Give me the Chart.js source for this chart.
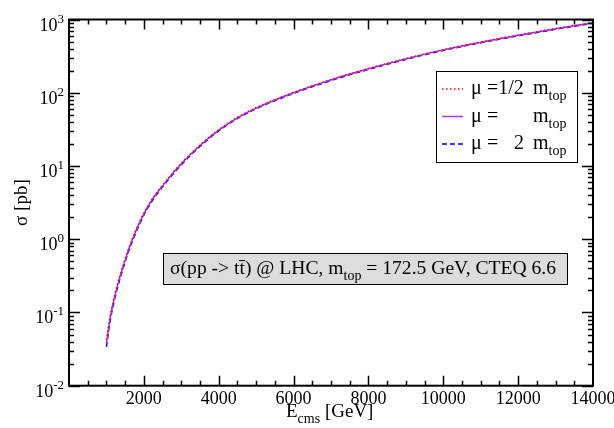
<!DOCTYPE html>
<html>
<head>
<meta charset="utf-8">
<script src="https://cdn.jsdelivr.net/npm/chart.js@4.4.1/dist/chart.umd.min.js"></script>
<style>
  html, body { margin: 0; padding: 0; background: #fff; }
  canvas { display: block; }
</style>
</head>
<body>
<canvas id="chart" width="614" height="428"></canvas>
<script>
// centre-of-mass energy [GeV]
const energies = [1000, 1100, 1200, 1300, 1400, 1500, 1600, 1800, 2000, 2200, 2500, 3000, 3500,
  4000, 4500, 5000, 6000, 7000, 8000, 9000, 10000, 11000, 12000, 13000, 14000];

// sigma [pb] for the three scale choices
const sigmaHalf = [0.042, 0.090, 0.157, 0.250, 0.372, 0.54, 0.765, 1.38, 2.28, 3.42, 5.46, 10.9, 19.3,
  31.2, 46.1, 62.5, 101, 151, 214, 293, 388, 493, 612, 751, 907];
const sigmaOne = [0.038, 0.084, 0.148, 0.238, 0.357, 0.52, 0.74, 1.34, 2.22, 3.34, 5.35, 10.7, 19.0,
  30.8, 45.5, 61.7, 100, 150, 212, 290, 385, 489, 608, 746, 901];
const sigmaTwo = [0.034, 0.077, 0.137, 0.222, 0.336, 0.49, 0.70, 1.28, 2.13, 3.22, 5.18, 10.4, 18.5,
  30.1, 44.5, 60.4, 98, 147, 208, 285, 378, 481, 598, 734, 886];

const xMajorTicks = [2000, 4000, 6000, 8000, 10000, 12000, 14000];
const yDecadeExps = [-2, -1, 0, 1, 2, 3];

const FONT = "Liberation Serif";
const RED = "#ff0000";
const VIOLET = "#a838f0";
const BLUE = "#0000ff";

const toPoints = (ys) => energies.map((e, i) => ({ x: e, y: ys[i] }));

// draw a run of text pieces with optional sub/superscripts
function drawRich(ctx, parts, x, y, size) {
  let cx = x;
  parts.forEach((p) => {
    const small = p.sub || p.sup;
    ctx.font = (small ? Math.round(size * 0.72) : size) + "px " + FONT;
    const dy = p.sub ? size * 0.3 : p.sup ? -size * 0.42 : 0;
    if (p.at !== undefined) cx = p.at;
    ctx.fillText(p.t, cx, y + dy);
    cx += ctx.measureText(p.t).width;
  });
  return cx;
}

const decorations = {
  id: "decorations",
  afterDraw(chart) {
    const { ctx, chartArea: a, scales } = chart;
    const xs = scales.x, ys = scales.y;
    ctx.save();
    ctx.fillStyle = "#000";
    ctx.strokeStyle = "#000";

    // frame
    ctx.lineWidth = 2;
    ctx.strokeRect(a.left, a.top, a.right - a.left, a.bottom - a.top);

    // x ticks (inward, mirrored)
    ctx.lineWidth = 1.5;
    for (let v = 500; v < 14000; v += 500) {
      const px = Math.round(xs.getPixelForValue(v)) + 0.5;
      const len = v % 2000 === 0 ? 10 : 5;
      ctx.beginPath();
      ctx.moveTo(px, a.bottom); ctx.lineTo(px, a.bottom - len);
      ctx.moveTo(px, a.top); ctx.lineTo(px, a.top + len);
      ctx.stroke();
    }
    // y ticks
    yDecadeExps.forEach((e) => {
      for (let m = 1; m <= 9; m++) {
        if (e === 3 && m > 1) break;
        const py = Math.round(ys.getPixelForValue(m * Math.pow(10, e))) + 0.5;
        const len = m === 1 ? 11 : 5;
        ctx.beginPath();
        ctx.moveTo(a.left, py); ctx.lineTo(a.left + len, py);
        ctx.moveTo(a.right, py); ctx.lineTo(a.right - len, py);
        ctx.stroke();
      }
    });

    // x tick labels
    ctx.font = "18px " + FONT;
    ctx.textAlign = "center";
    ctx.textBaseline = "alphabetic";
    xMajorTicks.forEach((v) => {
      ctx.fillText(String(v), xs.getPixelForValue(v), a.bottom + 18.5);
    });

    // y tick labels 10^n
    ctx.textAlign = "right";
    yDecadeExps.forEach((e) => {
      const py = ys.getPixelForValue(Math.pow(10, e));
      const right = 64;
      ctx.font = "13px " + FONT;
      const exp = String(e);
      const ew = ctx.measureText(exp).width;
      ctx.fillText(exp, right, py + 3);
      ctx.font = "18px " + FONT;
      ctx.fillText("10", right - ew, py + 11);
    });

    // axis titles
    ctx.textAlign = "left";
    drawRich(ctx, [{ t: "E" }, { t: "cms", sub: true }, { t: " [GeV]" }], 286, 417, 19);
    ctx.save();
    ctx.translate(27, (a.top + a.bottom) / 2);
    ctx.rotate(-Math.PI / 2);
    ctx.textAlign = "center";
    ctx.font = "19px " + FONT;
    ctx.fillText("σ [pb]", 0, 0);
    ctx.restore();

    // legend box
    const lx = 436, ly = 71, lw = 141, lh = 91;
    ctx.fillStyle = "#fff";
    ctx.fillRect(lx, ly, lw, lh);
    ctx.lineWidth = 1;
    ctx.strokeStyle = "#000";
    ctx.strokeRect(lx + 0.5, ly + 0.5, lw, lh);
    const rows = [
      { y: 89, color: RED, dash: [1.5, 2.5], parts: [{ t: "μ", at: 471 }, { t: "=1/2", at: 487 }, { t: "m", at: 533 }, { t: "top", sub: true }] },
      { y: 116.5, color: VIOLET, dash: [], parts: [{ t: "μ", at: 471 }, { t: "=", at: 487 }, { t: "m", at: 533 }, { t: "top", sub: true }] },
      { y: 144, color: BLUE, dash: [5, 3], parts: [{ t: "μ", at: 471 }, { t: "=", at: 487 }, { t: "2", at: 514 }, { t: "m", at: 533 }, { t: "top", sub: true }] },
    ];
    rows.forEach((r) => {
      ctx.save();
      ctx.strokeStyle = r.color;
      ctx.lineWidth = 1.5;
      ctx.setLineDash(r.dash);
      ctx.beginPath();
      ctx.moveTo(442, r.y); ctx.lineTo(463, r.y);
      ctx.stroke();
      ctx.restore();
      ctx.fillStyle = "#000";
      ctx.textAlign = "left";
      drawRich(ctx, r.parts, 471, r.y + 5, 20);
    });

    // annotation box
    const bx = 163, by = 253, bw = 404, bh = 31;
    ctx.fillStyle = "#dcdcdc";
    ctx.fillRect(bx, by, bw, bh);
    ctx.strokeStyle = "#000";
    ctx.lineWidth = 1;
    ctx.strokeRect(bx + 0.5, by + 0.5, bw, bh);
    ctx.fillStyle = "#000";
    drawRich(ctx, [
      { t: "σ(pp -> tt̄) @ LHC, m" }, { t: "top", sub: true },
      { t: " = 172.5 GeV, CTEQ 6.6" },
    ], 170, 274, 19.6);

    ctx.restore();
  },
};

new Chart(document.getElementById("chart"), {
  type: "line",
  data: {
    datasets: [
      { label: "μ = 1/2 m_top", data: toPoints(sigmaHalf), borderColor: RED, borderWidth: 1.5, borderDash: [1.5, 2.5] },
      { label: "μ = m_top", data: toPoints(sigmaOne), borderColor: VIOLET, borderWidth: 1.5 },
      { label: "μ = 2 m_top", data: toPoints(sigmaTwo), borderColor: BLUE, borderWidth: 1.5, borderDash: [5, 3] },
    ],
  },
  options: {
    responsive: false,
    animation: false,
    devicePixelRatio: 1,
    layout: { padding: { left: 69, right: 21, top: 19.5, bottom: 42.3 } },
    elements: {
      point: { radius: 0 },
      line: { cubicInterpolationMode: "monotone", fill: false },
    },
    plugins: { legend: { display: false }, tooltip: { enabled: false } },
    scales: {
      x: {
        type: "linear", min: 0, max: 14000,
        ticks: { display: false }, grid: { display: false }, border: { display: false },
        afterFit: (s) => { s.height = 0; },
      },
      y: {
        type: "logarithmic", min: 0.01, max: 1000,
        ticks: { display: false }, grid: { display: false }, border: { display: false },
        afterFit: (s) => { s.width = 0; },
      },
    },
  },
  plugins: [decorations],
});
</script>
</body>
</html>
